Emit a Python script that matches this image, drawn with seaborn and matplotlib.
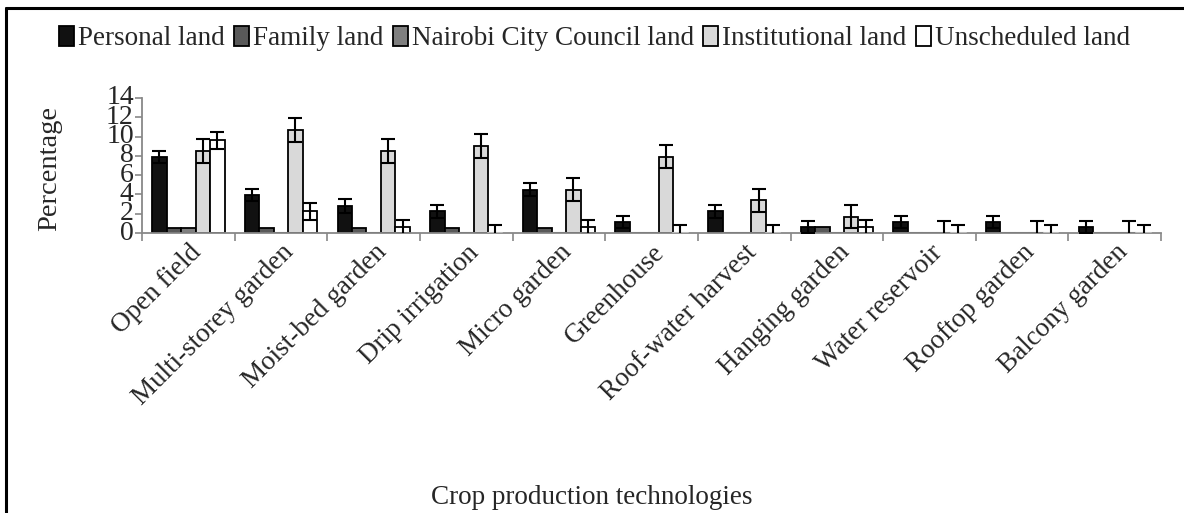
import numpy as np
import pandas as pd
import matplotlib.pyplot as plt
import seaborn as sns
from matplotlib.lines import Line2D

technologies = ["Open field", "Multi-storey garden", "Moist-bed garden", "Drip irrigation",
                "Micro garden", "Greenhouse", "Roof-water harvest", "Hanging garden",
                "Water reservoir", "Rooftop garden", "Balcony garden"]
land_types = ["Personal land", "Family land", "Nairobi City Council land",
              "Institutional land", "Unscheduled land"]

personal = [7.9, 3.95, 2.8, 2.25, 4.5, 1.15, 2.25, 0.6, 1.15, 1.15, 0.6]
family = [0.5, 0.5, 0.5, 0.5, 0.5, 0.0, 0.0, 0.6, 0.0, 0.0, 0.0]
council = [0.5, 0.0, 0.0, 0.0, 0.0, 0.0, 0.0, 0.0, 0.0, 0.0, 0.0]
institutional = [8.5, 10.7, 8.5, 9.0, 4.5, 7.9, 3.4, 1.7, 0.0, 0.0, 0.0]
unscheduled = [9.6, 2.25, 0.6, 0.0, 0.6, 0.0, 0.0, 0.6, 0.0, 0.0, 0.0]

personal_err = [0.62, 0.65, 0.7, 0.65, 0.65, 0.62, 0.65, 0.65, 0.62, 0.62, 0.65]
family_err = [0] * 11
council_err = [0] * 11
institutional_err = [1.2, 1.24, 1.2, 1.25, 1.2, 1.2, 1.2, 1.2, 1.25, 1.25, 1.25]
unscheduled_err = [0.87, 0.85, 0.8, 0.83, 0.8, 0.83, 0.83, 0.8, 0.83, 0.83, 0.83]

colors = ["#111111", "#595959", "#7f7f7f", "#d9d9d9", "#ffffff"]

values = [personal, family, council, institutional, unscheduled]
errors = [personal_err, family_err, council_err, institutional_err, unscheduled_err]

rows = []
for land, vals in zip(land_types, values):
    for tech, v in zip(technologies, vals):
        rows.append({"tech": tech, "land": land, "pct": v})
df = pd.DataFrame(rows)

sns.set_style("white")
plt.rcParams['font.family'] = ['Liberation Serif', 'DejaVu Serif']

fig = plt.figure(figsize=(11.84, 5.13), dpi=100)
ax = fig.add_axes([0.12, 0.5458, 0.8606, 0.2632])

sns.barplot(data=df, x="tech", y="pct", hue="land", order=technologies, hue_order=land_types,
            palette=colors, width=0.78, edgecolor="black", linewidth=1.3, errorbar=None,
            saturation=1, ax=ax)

# zero-height bars still show as a thin line in the original
for cont, col in zip(ax.containers, colors):
    for p in cont.patches:
        if p.get_height() == 0:
            ax.plot([p.get_x(), p.get_x() + p.get_width()], [0.03, 0.03],
                    color="#7f7f7f" if col != "#ffffff" else "#bbbbbb", lw=1.5, zorder=4)

for cont, err in zip(ax.containers, errors):
    xs = [p.get_x() + p.get_width() / 2 for p in cont.patches]
    hs = [p.get_height() for p in cont.patches]
    err = np.array(err, dtype=float)
    mask = err > 0
    if mask.any():
        ax.errorbar(np.array(xs)[mask], np.array(hs)[mask], yerr=err[mask], fmt="none",
                    ecolor="black", elinewidth=1.5, capsize=5, capthick=1.5, zorder=5)

ax.set_ylim(0, 14)
ax.set_yticks(range(0, 15, 2))
ax.set_xlim(-0.5, len(technologies) - 0.5)
ax.set_xticks(np.arange(-0.5, len(technologies)), labels=[""] * (len(technologies) + 1))
ax.set_xticks(range(len(technologies)), labels=technologies, minor=True)
ax.tick_params(axis="x", which="major", length=6, width=1.2, color="#888888", direction="out", bottom=True)
ax.tick_params(axis="x", which="minor", length=0, labelsize=19.5, pad=5)
ax.tick_params(axis="y", length=5, width=1.2, color="#888888", direction="out", left=True, labelsize=20, pad=1)
for lbl in ax.get_xticklabels(minor=True):
    lbl.set_rotation(45)
    lbl.set_ha("right")
    lbl.set_rotation_mode("anchor")
for lbl in ax.get_yticklabels():
    lbl.set_verticalalignment("center")

sns.despine(ax=ax)
for s in ["left", "bottom"]:
    ax.spines[s].set_color("#888888")
    ax.spines[s].set_linewidth(1.3)

ax.set_xlabel("")
ax.set_ylabel("")
fig.text(0.042, 0.672, "Percentage", rotation=90, ha="center", va="center", fontsize=20.5)
fig.text(0.5, 0.031, "Crop production technologies", ha="center", va="center", fontsize=19.5)

handles, labels = ax.get_legend_handles_labels()
ax.legend_.remove()
fig.legend(handles, labels, loc="center", bbox_to_anchor=(0.502, 0.925), ncol=5, frameon=False,
           fontsize=19.5, handlelength=0.55, handleheight=0.8, handletextpad=0.15, columnspacing=0.35)

fig.add_artist(Line2D([0.005, 0.005], [0, 0.985], transform=fig.transFigure, color="black", linewidth=2.2))
fig.add_artist(Line2D([0.005, 1.0], [0.985, 0.985], transform=fig.transFigure, color="black", linewidth=2.2))

fig.savefig("out.png", dpi=100)
